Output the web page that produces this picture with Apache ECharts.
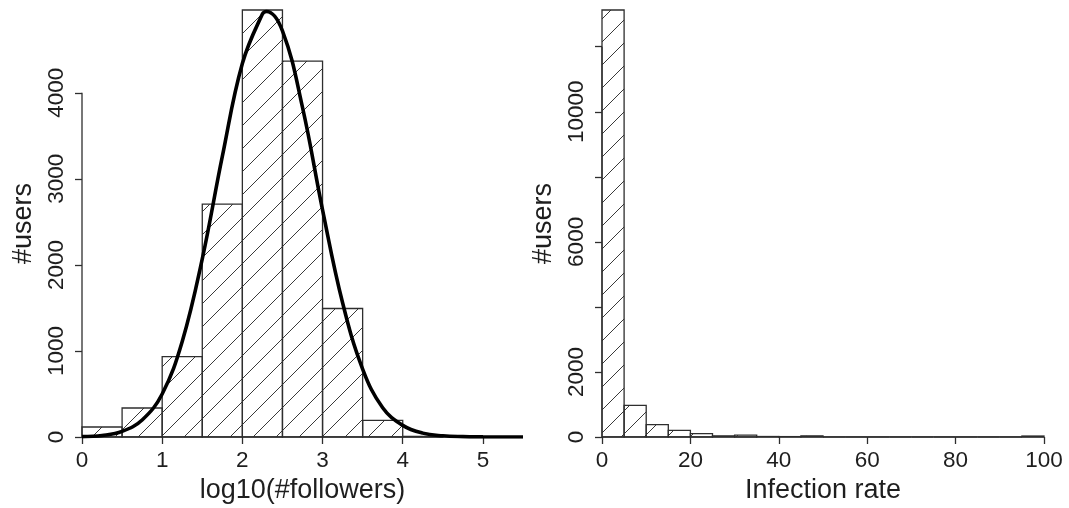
<!DOCTYPE html>
<html>
<head>
<meta charset="utf-8">
<script src="https://cdn.jsdelivr.net/npm/echarts@6/dist/echarts.min.js"></script>
<style>
  html, body { margin: 0; padding: 0; background: #fff; }
  #chart { width: 1069px; height: 508px; }
</style>
</head>
<body>
<div id="chart"></div>
<script>
// ---- Left panel: histogram of log10(#followers) with fitted normal curve ----
const followerBinEdges = [0, 0.5, 1, 1.5, 2, 2.5, 3, 3.5, 4, 4.5];
const followerCounts   = [116, 337, 935, 2706, 4962, 4369, 1493, 194, 8];
const fitCurveX = [0, 0.25, 0.5, 0.75, 1, 1.25, 1.5, 1.75, 2, 2.25, 2.3, 2.5, 2.75, 3, 3.25, 3.5, 3.75, 4, 4.25, 4.5, 4.75, 5, 5.25, 5.5];
const fitCurveY = [4, 18, 65, 198, 500, 1110, 2070, 3260, 4340, 4915, 4945, 4720, 3830, 2640, 1560, 790, 340, 135, 45, 14, 4, 1, 0, 0];
const followerXTicks = [0, 1, 2, 3, 4, 5];
const followerYTicks = [0, 1000, 2000, 3000, 4000];

// ---- Right panel: histogram of infection rate ----
const infectionBinEdges = [0, 5, 10, 15, 20, 25, 30, 35, 40, 45, 50, 55, 60, 65, 70, 75, 80, 85, 90, 95, 100];
const infectionCounts   = [13130, 975, 380, 205, 105, 35, 60, 15, 12, 35, 0, 0, 0, 0, 0, 0, 0, 0, 0, 30];
const infectionXTicks = [0, 20, 40, 60, 80, 100];
const infectionYTicks = [0, 2000, 4000, 6000, 8000, 10000, 12000];
const infectionYLabels = [0, 2000, 6000, 10000];

const FONT = '"Liberation Sans", Arial, Helvetica, sans-serif';
const INK = '#1e1e1e';
const LINE = '#2e2e2e';

// Diagonal hatch tile used as the bar fill
function makeHatch(step) {
  const c = document.createElement('canvas');
  c.width = step; c.height = step;
  const ctx = c.getContext('2d');
  ctx.strokeStyle = '#3a3a3a';
  ctx.lineWidth = 1;
  ctx.beginPath();
  ctx.moveTo(-1, step + 1); ctx.lineTo(step + 1, -1);
  ctx.moveTo(-2, 2); ctx.lineTo(2, -2);
  ctx.moveTo(step - 2, step + 2); ctx.lineTo(step + 2, step - 2);
  ctx.stroke();
  return c;
}
const hatch = { image: makeHatch(23), repeat: 'repeat' };

function binData(edges, counts) {
  return counts.map((c, i) => [edges[i], edges[i + 1], c]);
}

function renderBin(params, api) {
  const p0 = api.coord([api.value(0), 0]);
  const p1 = api.coord([api.value(1), api.value(2)]);
  return {
    type: 'rect',
    shape: { x: p0[0], y: p1[1], width: p1[0] - p0[0], height: p0[1] - p1[1] },
    style: { fill: hatch, stroke: LINE, lineWidth: 1.3 }
  };
}

function histSeries(idx, edges, counts) {
  return {
    type: 'custom', xAxisIndex: idx, yAxisIndex: idx,
    renderItem: renderBin,
    encode: { x: [0, 1], y: 2 },
    data: binData(edges, counts),
    silent: true, z: 2
  };
}

// R-style axis line spanning first to last tick
function segment(idx, pts) {
  return {
    type: 'line', xAxisIndex: idx, yAxisIndex: idx,
    data: pts, symbol: 'none', silent: true, z: 3,
    lineStyle: { color: LINE, width: 1.3 }
  };
}

const plain = v => String(v);

function xAxisCfg(idx, max, ticks, name) {
  return {
    gridIndex: idx, type: 'value', min: 0, max: max,
    name: name, nameLocation: 'middle', nameGap: 40,
    nameTextStyle: { fontFamily: FONT, fontSize: 27, color: INK },
    axisLine: { show: false }, splitLine: { show: false },
    axisTick: { show: true, length: 7, customValues: ticks, lineStyle: { color: LINE, width: 1.3 } },
    axisLabel: { customValues: ticks, formatter: plain, fontFamily: FONT, fontSize: 22.5, color: INK, margin: 12 }
  };
}

function yAxisCfg(idx, max, ticks, labels) {
  return {
    gridIndex: idx, type: 'value', min: 0, max: max,
    name: '#users', nameLocation: 'middle', nameGap: 45, nameRotate: 90,
    nameTextStyle: { fontFamily: FONT, fontSize: 27, color: INK },
    axisLine: { show: false }, splitLine: { show: false },
    axisTick: { show: true, length: 7, customValues: ticks, lineStyle: { color: LINE, width: 1.3 } },
    axisLabel: { customValues: labels, formatter: plain, rotate: 90, fontFamily: FONT, fontSize: 22.5, color: INK, margin: 14 }
  };
}

const chart = echarts.init(document.getElementById('chart'));
chart.setOption({
  backgroundColor: '#fff',
  animation: false,
  grid: [
    { left: 82, top: 10, width: 441, height: 427, outerBoundsMode: 'none' },
    { left: 602, top: 10, width: 442, height: 427, outerBoundsMode: 'none' }
  ],
  xAxis: [
    xAxisCfg(0, 5.5, followerXTicks, 'log10(#followers)'),
    xAxisCfg(1, 100, infectionXTicks, 'Infection rate')
  ],
  yAxis: [
    yAxisCfg(0, Math.max(...followerCounts), followerYTicks, followerYTicks),
    yAxisCfg(1, Math.max(...infectionCounts), infectionYTicks, infectionYLabels)
  ],
  series: [
    histSeries(0, followerBinEdges, followerCounts),
    segment(0, [[followerXTicks[0], 0], [followerXTicks[followerXTicks.length - 1], 0]]),
    segment(0, [[0, followerYTicks[0]], [0, followerYTicks[followerYTicks.length - 1]]]),
    {
      type: 'line', xAxisIndex: 0, yAxisIndex: 0,
      data: fitCurveX.map((x, i) => [x, fitCurveY[i]]),
      smooth: 0.4, symbol: 'none', silent: true, z: 5,
      lineStyle: { color: '#000', width: 3.6 }
    },
    histSeries(1, infectionBinEdges, infectionCounts),
    segment(1, [[infectionXTicks[0], 0], [infectionXTicks[infectionXTicks.length - 1], 0]]),
    segment(1, [[0, infectionYTicks[0]], [0, infectionYTicks[infectionYTicks.length - 1]]])
  ]
});
</script>
</body>
</html>
